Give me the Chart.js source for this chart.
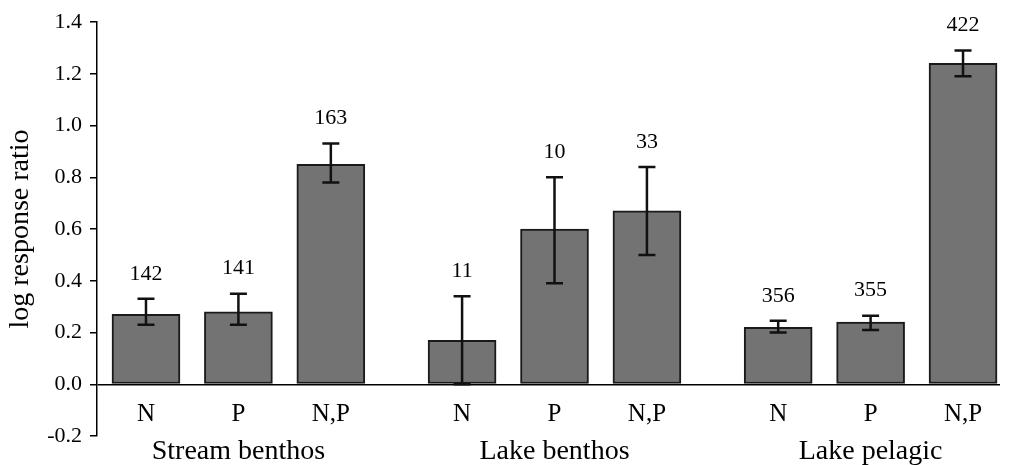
<!DOCTYPE html>
<html>
<head>
<meta charset="utf-8">
<script src="https://cdn.jsdelivr.net/npm/chart.js@4"></script>
<style>
  html, body { margin: 0; padding: 0; background: #fff; }
  #cadre { width: 1009px; height: 465px; }
</style>
</head>
<body>
<div id="cadre"><canvas id="graphique-ratio"></canvas></div>
<script>
// Groupes et traitements (axe x)
const groupes = ["Stream benthos", "Lake benthos", "Lake pelagic"];
const traitements = ["N", "P", "N,P"];
// Moyennes
const moyennes = [0.27, 0.28, 0.85, 0.17, 0.60, 0.67, 0.22, 0.24, 1.24];
// Bornes des barres d'erreur
const bornesBasses = [0.23, 0.23, 0.78, 0.00, 0.39, 0.50, 0.20, 0.21, 1.19];
const bornesHautes = [0.33, 0.35, 0.93, 0.34, 0.80, 0.84, 0.245, 0.265, 1.29];
// Nombre d'observations affiche au dessus de chaque barre
const effectifs = [142, 141, 163, 11, 10, 33, 356, 355, 422];
// Graduations de l'axe y
const graduations = [-0.2, 0.0, 0.2, 0.4, 0.6, 0.8, 1.0, 1.2, 1.4];

const police = "'Liberation Serif', 'Times New Roman', serif";
const ecartGroupe = 3.42; // distance entre deux groupes, en largeurs de barre

// Position de chaque barre sur l'axe lineaire
const positions = [];
for (let g = 0; g < groupes.length; g++) {
  for (let k = 0; k < traitements.length; k++) {
    positions.push(g * ecartGroupe + k);
  }
}

const donnees = [];
for (let i = 0; i < moyennes.length; i++) {
  donnees.push({ x: positions[i], y: moyennes[i] });
}

// Plugin : barres d'erreur, effectifs et libelles sous l'axe
const decorations = {
  id: "decorations",
  afterDatasetsDraw(chart) {
    const ctx = chart.ctx;
    const yScale = chart.scales.y;
    const barres = chart.getDatasetMeta(0).data;
    const bas = chart.chartArea.bottom;
    ctx.save();
    ctx.strokeStyle = "#111";
    ctx.lineWidth = 2.5;
    ctx.fillStyle = "#000";
    ctx.textAlign = "center";
    ctx.textBaseline = "middle";
    for (let i = 0; i < barres.length; i++) {
      const x = barres[i].x;
      const yHaut = yScale.getPixelForValue(bornesHautes[i]);
      const yBas = yScale.getPixelForValue(bornesBasses[i]);
      ctx.beginPath();
      ctx.moveTo(x, yHaut);
      ctx.lineTo(x, yBas);
      ctx.moveTo(x - 8.5, yHaut);
      ctx.lineTo(x + 8.5, yHaut);
      ctx.moveTo(x - 8.5, yBas);
      ctx.lineTo(x + 8.5, yBas);
      ctx.stroke();
      // effectif
      ctx.font = "22px " + police;
      ctx.fillText(String(effectifs[i]), x, yHaut - 25);
      // traitement
      ctx.font = "25px " + police;
      ctx.fillText(traitements[i % traitements.length], x, bas - 22);
    }
    // noms des groupes sous la barre du milieu
    ctx.font = "28px " + police;
    for (let g = 0; g < groupes.length; g++) {
      const milieu = barres[g * traitements.length + 1].x;
      ctx.fillText(groupes[g], milieu, bas + 16);
    }
    ctx.restore();
  }
};

new Chart(document.querySelector("#graphique-ratio"), {
  type: "bar",
  data: {
    datasets: [{
      data: donnees,
      backgroundColor: "#737373",
      borderColor: "#1a1a1a",
      borderWidth: 2,
      borderSkipped: false,
      barThickness: 68
    }]
  },
  options: {
    responsive: true,
    maintainAspectRatio: false,
    animation: false,
    layout: { padding: { top: 22, right: 9, bottom: 29, left: 0 } },
    plugins: {
      legend: { display: false },
      tooltip: { enabled: false }
    },
    scales: {
      x: {
        type: "linear",
        min: -0.53,
        max: 9.24,
        offset: false,
        display: false
      },
      y: {
        min: -0.2,
        max: 1.4,
        afterBuildTicks: (scale) => {
          scale.ticks = graduations.map(v => ({ value: v }));
        },
        afterFit: (scale) => {
          scale.width = 97;
        },
        ticks: {
          color: "#000",
          padding: 8,
          font: { family: police, size: 22 },
          callback: (v) => Number(v).toFixed(1)
        },
        grid: {
          color: (c) => (c.tick && c.tick.value === 0 ? "#000" : "rgba(0,0,0,0)"),
          lineWidth: 1.5,
          tickColor: "#000",
          tickLength: 7
        },
        border: { display: true, color: "#000", width: 1.5 },
        title: {
          display: true,
          text: "log response ratio",
          color: "#000",
          font: { family: police, size: 28 },
          padding: { top: 4, bottom: 0 }
        }
      }
    }
  },
  plugins: [decorations]
});
</script>
</body>
</html>
